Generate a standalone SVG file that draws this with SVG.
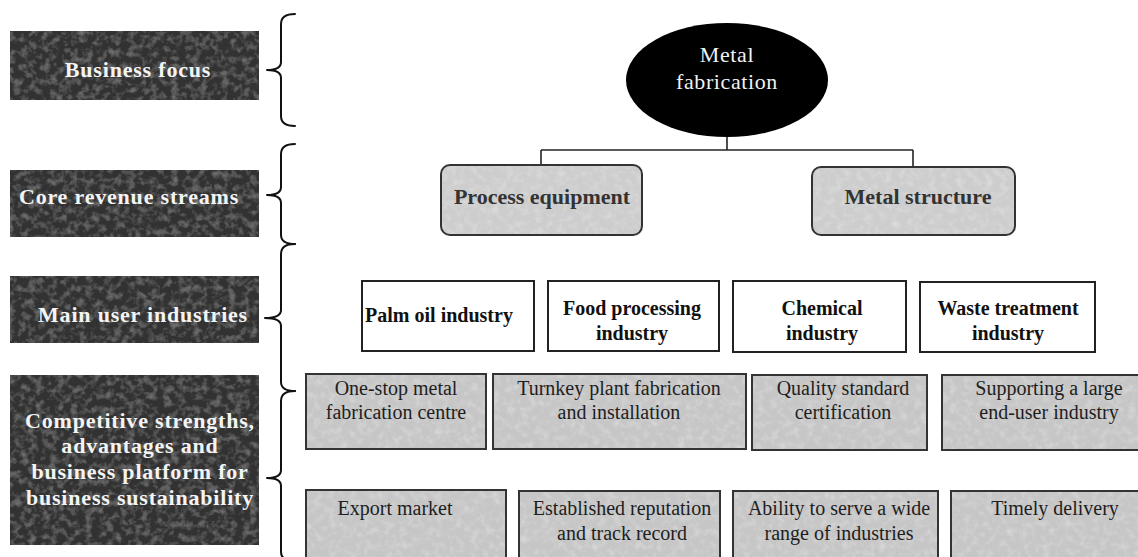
<svg xmlns="http://www.w3.org/2000/svg" width="1138" height="557" viewBox="0 0 1138 557">
  <style>
    .band { fill: #323232; }
    .band-text { font-family: "Liberation Serif", "Times New Roman", serif; font-weight: bold; font-size: 22px; letter-spacing: 0.8px; fill: #f4f4f4; text-anchor: middle; }
    .brace { fill: none; stroke: #111; stroke-width: 2; stroke-linecap: round; stroke-linejoin: round; }
    .conn { fill: none; stroke: #222; stroke-width: 1.6; }
    .stream { fill: #cdcdcd; }
    .stream-text { font-family: "Liberation Serif", "Times New Roman", serif; font-weight: bold; font-size: 22px; fill: #333; text-anchor: middle; }
    .industry { fill: #fff; stroke: #222; stroke-width: 2; }
    .industry-text { font-family: "Liberation Serif", "Times New Roman", serif; font-weight: bold; font-size: 20px; fill: #111; text-anchor: middle; }
    .strength { fill: #c6c6c6; }
    .edge { fill: none; stroke: #333; stroke-width: 2; }
    .strength-text { font-family: "Liberation Serif", "Times New Roman", serif; font-size: 20px; fill: #1e1e1e; text-anchor: middle; }
    .root-text { font-family: "Liberation Serif", "Times New Roman", serif; font-size: 22px; letter-spacing: 0.6px; fill: #f2f2f2; text-anchor: middle; }
  </style>
  <defs>
    <!-- faint light blotches laid over the grey fills -->
    <filter id="mottle" x="0" y="0" width="1" height="1">
      <feTurbulence type="fractalNoise" baseFrequency="0.14" numOctaves="3" seed="7" result="noise"/>
      <feColorMatrix in="noise" type="matrix" values="0 0 0 0 1  0 0 0 0 1  0 0 0 0 1  0.55 0 0 0 -0.24" result="speck"/>
      <feComposite in="speck" in2="SourceGraphic" operator="in" result="clipped"/>
      <feMerge>
        <feMergeNode in="SourceGraphic"/>
        <feMergeNode in="clipped"/>
      </feMerge>
    </filter>
    <!-- weaker version for the dark bands -->
    <filter id="mottle-dark" x="0" y="0" width="1" height="1">
      <feTurbulence type="fractalNoise" baseFrequency="0.14" numOctaves="3" seed="11" result="noise"/>
      <feColorMatrix in="noise" type="matrix" values="0 0 0 0 1  0 0 0 0 1  0 0 0 0 1  0.3 0 0 0 -0.13" result="speck"/>
      <feComposite in="speck" in2="SourceGraphic" operator="in" result="clipped"/>
      <feMerge>
        <feMergeNode in="SourceGraphic"/>
        <feMergeNode in="clipped"/>
      </feMerge>
    </filter>
  </defs>

  <rect width="1138" height="557" fill="#fff"/>

  <!-- left-hand level bands -->
  <g id="band-business-focus">
    <rect class="band" x="10" y="31" width="249" height="69" filter="url(#mottle-dark)"/>
    <text class="band-text" x="138" y="77">Business focus</text>
  </g>
  <g id="band-core-revenue">
    <rect class="band" x="10" y="170" width="249" height="67" filter="url(#mottle-dark)"/>
    <text class="band-text" x="129" y="204">Core revenue streams</text>
  </g>
  <g id="band-user-industries">
    <rect class="band" x="10" y="276" width="249" height="67" filter="url(#mottle-dark)"/>
    <text class="band-text" x="143" y="322">Main user industries</text>
  </g>
  <g id="band-strengths">
    <rect class="band" x="10" y="375" width="249" height="170" filter="url(#mottle-dark)"/>
    <text class="band-text" x="140" y="428">Competitive strengths,</text>
    <text class="band-text" x="140" y="453">advantages and</text>
    <text class="band-text" x="140" y="479">business platform for</text>
    <text class="band-text" x="140" y="505">business sustainability</text>
  </g>

  <!-- braces grouping each level -->
  <g id="braces">
    <path class="brace" d="M295,14 C286,14 281,17 281,24 L281,62 C281,67 276,70 267,70 C276,70 281,73 281,78 L281,116 C281,123 286,126 295,126"/>
    <path class="brace" d="M295,144 C286,144 281,147 281,154 L281,187 C281,192 276,195 267,195 C276,195 281,198 281,203 L281,235 C281,241 286,244 295,244"/>
    <path class="brace" d="M295,244 C286,244 281,247 281,254 L281,310 C281,315 275,318 265,318 C275,318 281,321 281,326 L281,382 C281,388 286,391 295,391"/>
    <path class="brace" d="M295,391 C286,391 281,394 281,401 L281,470 C281,475 276,478 267,478 C276,478 281,481 281,486 L281,552 C281,558 286,561 295,561"/>
  </g>

  <!-- tree connectors -->
  <g id="connectors">
    <path class="conn" d="M727,136 L727,150"/>
    <path class="conn" d="M541,150 L913,150"/>
    <path class="conn" d="M541,150 L541,165"/>
    <path class="conn" d="M913,150 L913,167"/>
  </g>

  <!-- business focus -->
  <g id="node-metal-fabrication">
    <ellipse cx="727" cy="80" rx="101" ry="57" fill="#000"/>
    <text class="root-text" x="727" y="62">Metal</text>
    <text class="root-text" x="727" y="89">fabrication</text>
  </g>

  <!-- revenue streams -->
  <g id="node-process-equipment">
    <rect class="stream" x="441" y="165" width="201" height="70" rx="9" filter="url(#mottle)"/>
    <rect class="edge" x="441" y="165" width="201" height="70" rx="9"/>
    <text class="stream-text" x="542" y="204">Process equipment</text>
  </g>
  <g id="node-metal-structure">
    <rect class="stream" x="812" y="167" width="203" height="68" rx="9" filter="url(#mottle)"/>
    <rect class="edge" x="812" y="167" width="203" height="68" rx="9"/>
    <text class="stream-text" x="918" y="204">Metal structure</text>
  </g>

  <!-- user industries -->
  <g id="node-palm-oil">
    <rect class="industry" x="362" y="281" width="172" height="70"/>
    <text class="industry-text" x="439" y="322">Palm oil industry</text>
  </g>
  <g id="node-food-processing">
    <rect class="industry" x="548" y="281" width="171" height="70"/>
    <text class="industry-text" x="632" y="315">Food processing</text>
    <text class="industry-text" x="632" y="340">industry</text>
  </g>
  <g id="node-chemical">
    <rect class="industry" x="733" y="281" width="173" height="71"/>
    <text class="industry-text" x="822" y="315">Chemical</text>
    <text class="industry-text" x="822" y="340">industry</text>
  </g>
  <g id="node-waste-treatment">
    <rect class="industry" x="920" y="282" width="175" height="70"/>
    <text class="industry-text" x="1008" y="315">Waste treatment</text>
    <text class="industry-text" x="1008" y="340">industry</text>
  </g>

  <!-- competitive strengths, first row -->
  <g id="node-one-stop">
    <rect class="strength" x="306" y="374" width="180" height="75" filter="url(#mottle)"/>
    <rect class="edge" x="306" y="374" width="180" height="75"/>
    <text class="strength-text" x="396" y="395">One-stop metal</text>
    <text class="strength-text" x="396" y="419">fabrication centre</text>
  </g>
  <g id="node-turnkey">
    <rect class="strength" x="493" y="374" width="253" height="75" filter="url(#mottle)"/>
    <rect class="edge" x="493" y="374" width="253" height="75"/>
    <text class="strength-text" x="619" y="395">Turnkey plant fabrication</text>
    <text class="strength-text" x="619" y="419">and installation</text>
  </g>
  <g id="node-quality">
    <rect class="strength" x="752" y="375" width="175" height="75" filter="url(#mottle)"/>
    <rect class="edge" x="752" y="375" width="175" height="75"/>
    <text class="strength-text" x="843" y="395">Quality standard</text>
    <text class="strength-text" x="843" y="419">certification</text>
  </g>
  <g id="node-supporting">
    <rect class="strength" x="942" y="375" width="200" height="75" filter="url(#mottle)"/>
    <rect class="edge" x="942" y="375" width="200" height="75"/>
    <text class="strength-text" x="1049" y="395">Supporting a large</text>
    <text class="strength-text" x="1049" y="419">end-user industry</text>
  </g>

  <!-- competitive strengths, second row -->
  <g id="node-export">
    <rect class="strength" x="306" y="490" width="200" height="72" filter="url(#mottle)"/>
    <rect class="edge" x="306" y="490" width="200" height="72"/>
    <text class="strength-text" x="395" y="515">Export market</text>
  </g>
  <g id="node-reputation">
    <rect class="strength" x="519" y="491" width="201" height="71" filter="url(#mottle)"/>
    <rect class="edge" x="519" y="491" width="201" height="71"/>
    <text class="strength-text" x="622" y="515">Established reputation</text>
    <text class="strength-text" x="622" y="540">and track record</text>
  </g>
  <g id="node-wide-range">
    <rect class="strength" x="733" y="491" width="205" height="71" filter="url(#mottle)"/>
    <rect class="edge" x="733" y="491" width="205" height="71"/>
    <text class="strength-text" x="839" y="515">Ability to serve a wide</text>
    <text class="strength-text" x="839" y="540">range of industries</text>
  </g>
  <g id="node-timely">
    <rect class="strength" x="951" y="491" width="191" height="71" filter="url(#mottle)"/>
    <rect class="edge" x="951" y="491" width="191" height="71"/>
    <text class="strength-text" x="1055" y="515">Timely delivery</text>
  </g>
</svg>
